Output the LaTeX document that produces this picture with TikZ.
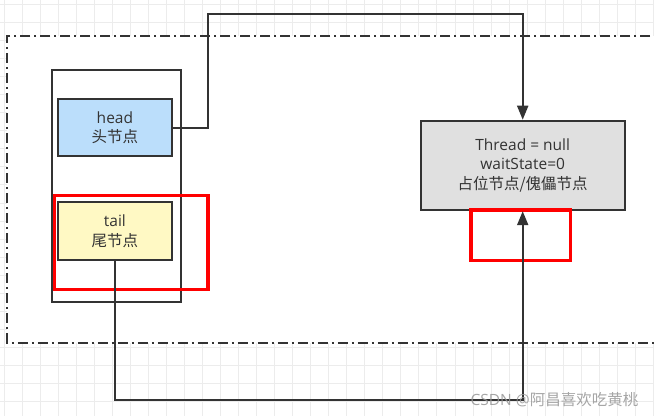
\documentclass[tikz,border=0pt]{standalone}
\usepackage{fontspec}
\setmainfont{Open Sans}
\newfontfamily\cjk{Noto Sans CJK SC}
\usetikzlibrary{arrows.meta}
\definecolor{ink}{RGB}{51,51,51}
\definecolor{gridc}{RGB}{236,236,236}
\definecolor{headfill}{RGB}{187,222,251}
\definecolor{tailfill}{RGB}{255,249,196}
\definecolor{threadfill}{RGB}{224,224,224}
\definecolor{wm}{RGB}{150,150,150}
\tikzset{
  txt/.style={font=\fontsize{15.5}{19.5}\selectfont, text=ink, align=center},
  nodebox/.style={draw=ink, line width=2pt, inner sep=0pt, txt},
  redbox/.style={draw=red, line width=3.5pt, inner sep=0pt},
  conn/.style={draw=ink, line width=2pt, line join=miter},
  arr/.style={conn, -{Triangle[length=14pt,width=11pt]}},
  dashdotline/.style={draw=ink, line width=2pt, dash pattern=on 10pt off 4pt on 2pt off 4pt}
}
\begin{document}
\begin{tikzpicture}[x=1pt,y=-1pt]
\useasboundingbox (0,0) rectangle (654,416);
% background grid
\foreach \i in {0,...,36} { \draw[gridc, line width=1pt] (4.27+18.03*\i,0) -- (4.27+18.03*\i,416); }
\foreach \j in {0,...,23} { \draw[gridc, line width=1pt] (0,4.67+18.03*\j) -- (654,4.67+18.03*\j); }
% container
\fill[white] (7.2,36) rectangle (670,342.5);
\draw[dashdotline] (670,36) -- (7.2,36) -- (7.2,342.5) -- (670,342.5);
% left column
\node[draw=ink, line width=2pt, minimum width=128.7pt, minimum height=231.3pt, inner sep=0pt] (col) at (116.35,185.85) {};
\node[nodebox, fill=headfill, minimum width=114.8pt, minimum height=56.7pt] (head) at (114.9,127.65) {head\\{\cjk 头节点}};
\node[nodebox, fill=tailfill, minimum width=114.8pt, minimum height=58pt] (tail) at (114.9,231) {tail\\{\cjk 尾节点}};
\node[nodebox, fill=threadfill, minimum width=204pt, minimum height=89.5pt] (thread) at (522.7,165.45) {Thread = null\\waitState=0\\{\cjk 占位节点/傀儡节点}};
% red highlight boxes
\node[redbox, minimum width=153.5pt, minimum height=94pt] (red1) at (131.05,242.5) {};
\node[redbox, minimum width=99.7pt, minimum height=50.7pt] (red2) at (520.65,235.15) {};
% connectors
\coordinate (c1) at (208.2,13.8);
\coordinate (c2) at (114.9,400);
\draw[arr] (head.east) -| (c1) -| (thread.north);
\draw[arr] (tail.south) -- (c2) -| (thread.south);
% watermark
\node[anchor=east, inner sep=0pt, text=wm, opacity=0.85, font=\fontsize{15.5}{18}\selectfont] (wmk) at (638.5,400) {CSDN @{\cjk 阿昌喜欢吃黄桃}};
\end{tikzpicture}
\end{document}
